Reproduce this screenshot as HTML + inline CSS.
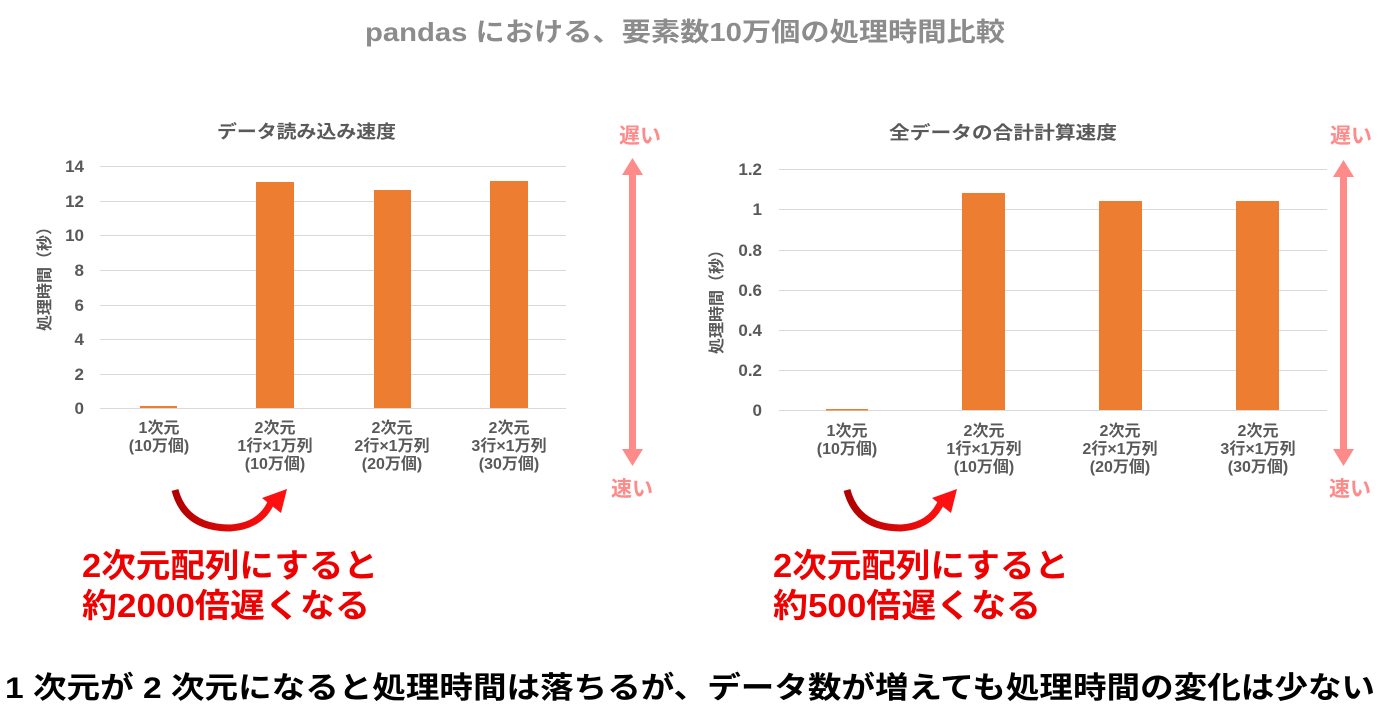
<!DOCTYPE html>
<html><head><meta charset="utf-8"><style>
body{margin:0;width:1391px;height:722px;background:#fff;overflow:hidden;font-family:"Liberation Sans","Noto Sans CJK JP",sans-serif}
svg text{font-family:"Liberation Sans","Noto Sans CJK JP",sans-serif}
</style></head><body>
<svg width="1391" height="722" viewBox="0 0 1391 722">
<defs>
<linearGradient id="rg" x1="0" x2="1"><stop offset="0" stop-color="#b00000"/><stop offset="1" stop-color="#ff1010"/></linearGradient>
</defs>
<text x="365" y="41" font-size="26" font-weight="bold" fill="#8c8c8c" textLength="640" lengthAdjust="spacingAndGlyphs">pandas における、要素数10万個の処理時間比較</text>

<!-- Left chart -->
<text x="217" y="138" font-size="18" font-weight="bold" fill="#595959" textLength="179" lengthAdjust="spacingAndGlyphs">データ読み込み速度</text>
<g stroke="#d9d9d9" stroke-width="1">
<line x1="100" x2="566" y1="166.5" y2="166.5"/><line x1="100" x2="566" y1="201.5" y2="201.5"/><line x1="100" x2="566" y1="235.5" y2="235.5"/><line x1="100" x2="566" y1="270.5" y2="270.5"/><line x1="100" x2="566" y1="305.5" y2="305.5"/><line x1="100" x2="566" y1="339.5" y2="339.5"/><line x1="100" x2="566" y1="374.5" y2="374.5"/><line x1="100" x2="566" y1="408.5" y2="408.5"/>
</g>
<g font-size="17" font-weight="bold" fill="#595959" text-anchor="end">
<text x="84" y="172">14</text><text x="84" y="207">12</text><text x="84" y="241">10</text><text x="84" y="276">8</text><text x="84" y="311">6</text><text x="84" y="345">4</text><text x="84" y="380">2</text><text x="84" y="414">0</text>
</g>
<text transform="translate(50,275) rotate(-90)" text-anchor="middle" font-size="16" font-weight="bold" fill="#595959">処理時間（秒）</text>
<g fill="#ed7d31">
<rect x="140" y="406" width="37" height="2"/>
<rect x="256" y="182" width="38" height="226"/>
<rect x="374" y="190" width="37" height="218"/>
<rect x="490" y="181" width="38" height="227"/>
</g>
<g font-size="16" font-weight="bold" fill="#595959" text-anchor="middle">
<text x="159" y="433">1次元</text><text x="159" y="451">(10万個)</text>
<text x="275" y="433">2次元</text><text x="275" y="451">1行×1万列</text><text x="275" y="469">(10万個)</text>
<text x="392" y="433">2次元</text><text x="392" y="451">2行×1万列</text><text x="392" y="469">(20万個)</text>
<text x="509" y="433">2次元</text><text x="509" y="451">3行×1万列</text><text x="509" y="469">(30万個)</text>
</g>
<text x="640" y="143" text-anchor="middle" font-size="21" font-weight="bold" fill="#ff8a8a">遅い</text>
<text x="632" y="496" text-anchor="middle" font-size="21" font-weight="bold" fill="#ff8a8a">速い</text>
<rect x="629" y="172" width="7" height="280" fill="#ff8a8a"/>
<polygon points="632.5,158 622,175 643,175" fill="#ff8a8a"/>
<polygon points="632.5,466 622,449 643,449" fill="#ff8a8a"/>
<path d="M175,490 Q185,528 230,528 Q262,526 272,500" fill="none" stroke="url(#rg)" stroke-width="7"/>
<polygon points="262,498 287,489 281,513" fill="#ff1010"/>
<text x="82" y="577" font-size="33" font-weight="bold" fill="#ee0000" textLength="296" lengthAdjust="spacingAndGlyphs">2次元配列にすると</text>
<text x="82" y="617" font-size="33" font-weight="bold" fill="#ee0000" textLength="288" lengthAdjust="spacingAndGlyphs">約2000倍遅くなる</text>

<!-- Right chart -->
<text x="889" y="139" font-size="18" font-weight="bold" fill="#595959" textLength="228" lengthAdjust="spacingAndGlyphs">全データの合計計算速度</text>
<g stroke="#d9d9d9" stroke-width="1">
<line x1="779" x2="1327" y1="169.5" y2="169.5"/><line x1="779" x2="1327" y1="209.5" y2="209.5"/><line x1="779" x2="1327" y1="250.5" y2="250.5"/><line x1="779" x2="1327" y1="290.5" y2="290.5"/><line x1="779" x2="1327" y1="330.5" y2="330.5"/><line x1="779" x2="1327" y1="370.5" y2="370.5"/><line x1="779" x2="1327" y1="410.5" y2="410.5"/>
</g>
<g font-size="17" font-weight="bold" fill="#595959" text-anchor="end">
<text x="762" y="175">1.2</text><text x="762" y="215">1</text><text x="762" y="256">0.8</text><text x="762" y="296">0.6</text><text x="762" y="336">0.4</text><text x="762" y="376">0.2</text><text x="762" y="416">0</text>
</g>
<text transform="translate(722,298) rotate(-90)" text-anchor="middle" font-size="16" font-weight="bold" fill="#595959">処理時間（秒）</text>
<g fill="#ed7d31">
<rect x="826" y="409" width="42" height="1.5"/>
<rect x="962" y="193" width="43" height="217"/>
<rect x="1099" y="201" width="43" height="209"/>
<rect x="1236" y="201" width="43" height="209"/>
</g>
<g font-size="16" font-weight="bold" fill="#595959" text-anchor="middle">
<text x="847" y="436">1次元</text><text x="847" y="454">(10万個)</text>
<text x="984" y="436">2次元</text><text x="984" y="454">1行×1万列</text><text x="984" y="472">(10万個)</text>
<text x="1120" y="436">2次元</text><text x="1120" y="454">2行×1万列</text><text x="1120" y="472">(20万個)</text>
<text x="1258" y="436">2次元</text><text x="1258" y="454">3行×1万列</text><text x="1258" y="472">(30万個)</text>
</g>
<text x="1351" y="143" text-anchor="middle" font-size="21" font-weight="bold" fill="#ff8a8a">遅い</text>
<text x="1350" y="496" text-anchor="middle" font-size="21" font-weight="bold" fill="#ff8a8a">速い</text>
<rect x="1340" y="174" width="7" height="278" fill="#ff8a8a"/>
<polygon points="1343.5,160 1333,177 1354,177" fill="#ff8a8a"/>
<polygon points="1343.5,466 1333,449 1354,449" fill="#ff8a8a"/>
<path d="M847,490 Q857,528 901,528 Q932,526 942,500" fill="none" stroke="url(#rg)" stroke-width="7"/>
<polygon points="932,498 957,489 951,513" fill="#ff1010"/>
<text x="773" y="577" font-size="33" font-weight="bold" fill="#ee0000" textLength="296" lengthAdjust="spacingAndGlyphs">2次元配列にすると</text>
<text x="773" y="617" font-size="33" font-weight="bold" fill="#ee0000" textLength="268" lengthAdjust="spacingAndGlyphs">約500倍遅くなる</text>

<text x="690" y="698" text-anchor="middle" font-size="30" font-weight="bold" fill="#000" textLength="1370" lengthAdjust="spacingAndGlyphs">1 次元が 2 次元になると処理時間は落ちるが、データ数が増えても処理時間の変化は少ない</text>
</svg>
</body></html>
